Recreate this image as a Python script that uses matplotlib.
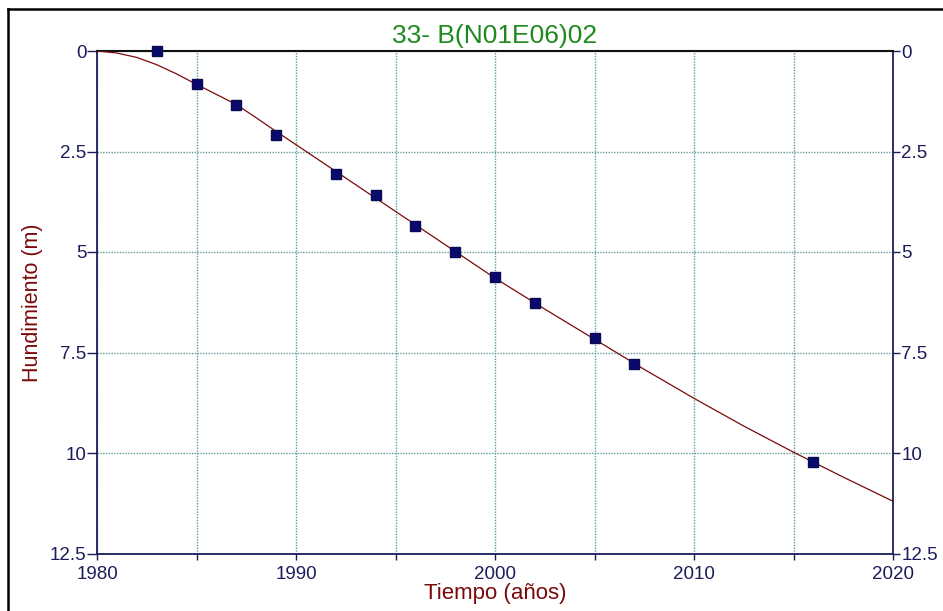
import matplotlib
matplotlib.use("Agg")
import matplotlib.pyplot as plt
from matplotlib.ticker import MultipleLocator, FuncFormatter
from matplotlib.lines import Line2D

# Observed data (markers)
obs_years = [1983, 1985, 1987, 1989, 1992, 1994, 1996, 1998, 2000, 2002, 2005, 2007, 2016]
obs_values = [0.0, 0.83, 1.35, 2.08, 3.05, 3.58, 4.35, 5.01, 5.61, 6.28, 7.15, 7.79, 10.23]

# Fitted curve
fit_years = [1980, 1981, 1982, 1983, 1984, 1985, 1986, 1987, 1988, 1989, 1990,
             1992.5, 1995, 1997.5, 2000, 2002.5, 2005, 2007.5, 2010, 2012.5, 2015, 2017.5, 2020]
fit_values = [0.0, 0.05, 0.16, 0.34, 0.57, 0.83, 1.08, 1.33, 1.66, 2.0, 2.33,
              3.16, 3.99, 4.82, 5.65, 6.42, 7.17, 7.92, 8.64, 9.33, 9.98, 10.6, 11.2]

title = "33- B(N01E06)02"
xlabel = "Tiempo (años)"
ylabel = "Hundimiento (m)"

plt.rcParams['font.family'] = ['Liberation Sans', 'DejaVu Sans']

W, H = 943, 611
fig = plt.figure(figsize=(W / 100, H / 100), dpi=100)
ax = fig.add_axes([97 / W, (H - 553.5) / H, (893 - 97) / W, (553.5 - 51) / H])

navy = '#1c1c5a'
tick_col = '#1c1c5a'
grid_col = '#5f9c9c'

ax.plot(fit_years, fit_values, color='#7a0a0a', lw=0.9, zorder=3)
ax.plot(obs_years, obs_values, linestyle='none', marker='s', markersize=7.2,
        markerfacecolor='#0a0a6e', markeredgecolor='#0a0a50', zorder=4, clip_on=False)

ax.set_xlim(1980, 2020)
ax.set_ylim(12.5, 0)

ax.xaxis.set_major_locator(MultipleLocator(10))
ax.xaxis.set_minor_locator(MultipleLocator(5))
ax.yaxis.set_major_locator(MultipleLocator(2.5))
ax.yaxis.set_major_formatter(FuncFormatter(lambda v, p: f"{v:g}"))
ax.xaxis.set_major_formatter(FuncFormatter(lambda v, p: f"{int(v)}"))

ax.grid(True, which='both', axis='x', color=grid_col, linestyle=(0, (1, 1)), lw=1.0)
ax.grid(True, which='major', axis='y', color=grid_col, linestyle=(0, (1, 1)), lw=1.0)
ax.set_axisbelow(True)

ax.tick_params(axis='x', which='both', direction='out', length=4, width=1,
               color=navy, labelcolor=tick_col, labelsize=13.5, pad=5)
ax.tick_params(axis='y', which='both', direction='out', length=7, width=1,
               color=navy, labelcolor=tick_col, labelsize=13.5, pad=0.5,
               right=False, labelright=False)

for s in ['left', 'bottom', 'right']:
    ax.spines[s].set_color(navy)
    ax.spines[s].set_linewidth(1.3)
ax.spines['top'].set_color('#111111')
ax.spines['top'].set_linewidth(1.5)

# right axis labels
ax2 = ax.twinx()
ax2.set_ylim(12.5, 0)
ax2.yaxis.set_major_locator(MultipleLocator(2.5))
ax2.yaxis.set_major_formatter(FuncFormatter(lambda v, p: f"{v:g}"))
ax2.tick_params(axis='y', direction='out', length=5, width=1, color=navy,
                labelcolor=tick_col, labelsize=13.5, pad=1)
for s in ['left', 'bottom', 'right', 'top']:
    ax2.spines[s].set_visible(False)

ax.set_title(title, color='#1e8a1e', fontsize=19, pad=6)
ax.set_xlabel(xlabel, color='#7a0a0a', fontsize=16, labelpad=0)
ax.set_ylabel(ylabel, color='#7a0a0a', fontsize=15.5, labelpad=5)

# outer frame lines (top and left)
fig.add_artist(Line2D([8 / W, 1], [(H - 9) / H, (H - 9) / H], color='black', lw=1.8,
                      transform=fig.transFigure))
fig.add_artist(Line2D([8 / W, 8 / W], [0, (H - 9) / H], color='black', lw=1.8,
                      transform=fig.transFigure))

fig.savefig("out.png", dpi=100)
